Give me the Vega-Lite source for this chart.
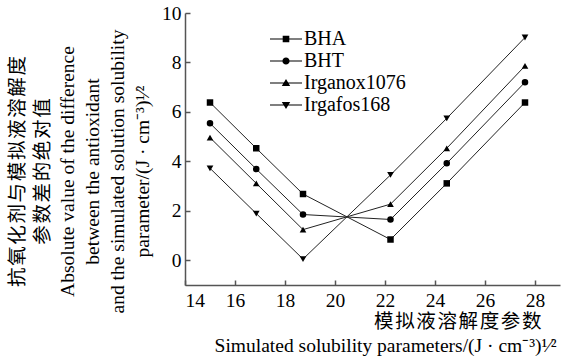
{
  "$schema": "https://vega.github.io/schema/vega-lite/v6.json",
  "width": 375,
  "height": 272,
  "autosize": {"type": "none"},
  "padding": {"left": 185, "top": 13, "right": 1, "bottom": 73},
  "background": "white",
  "config": {
    "view": {"stroke": null},
    "font": "Liberation Serif, Noto Sans CJK SC, serif",
    "axis": {
      "grid": false,
      "domainColor": "#555",
      "domainWidth": 1.5,
      "tickColor": "#555",
      "tickWidth": 1.5,
      "tickSize": -5,
      "labelColor": "black",
      "labelFont": "Liberation Serif, Noto Sans CJK SC, serif",
      "labelFontSize": 19.5,
      "titleFont": "Liberation Serif, Noto Sans CJK SC, serif",
      "titleFontSize": 19.5,
      "titleFontWeight": "normal",
      "titleColor": "black"
    },
    "legend": {
      "labelFont": "Liberation Serif, Noto Sans CJK SC, serif"
    }
  },
  "data": {
    "values": [
      {"series": "BHA", "x": 15.0, "y": 6.38},
      {"series": "BHA", "x": 16.85, "y": 4.53},
      {"series": "BHA", "x": 18.72, "y": 2.68},
      {"series": "BHA", "x": 22.22, "y": 0.84},
      {"series": "BHA", "x": 24.47, "y": 3.11},
      {"series": "BHA", "x": 27.6, "y": 6.38},
      {"series": "BHT", "x": 15.0, "y": 5.54},
      {"series": "BHT", "x": 16.85, "y": 3.69},
      {"series": "BHT", "x": 18.72, "y": 1.85},
      {"series": "BHT", "x": 22.22, "y": 1.65},
      {"series": "BHT", "x": 24.47, "y": 3.92},
      {"series": "BHT", "x": 27.6, "y": 7.2},
      {"series": "Irganox1076", "x": 15.0, "y": 4.96},
      {"series": "Irganox1076", "x": 16.85, "y": 3.11},
      {"series": "Irganox1076", "x": 18.72, "y": 1.24},
      {"series": "Irganox1076", "x": 22.22, "y": 2.27},
      {"series": "Irganox1076", "x": 24.47, "y": 4.53},
      {"series": "Irganox1076", "x": 27.6, "y": 7.86},
      {"series": "Irgafos168", "x": 15.0, "y": 3.72},
      {"series": "Irgafos168", "x": 16.85, "y": 1.89},
      {"series": "Irgafos168", "x": 18.72, "y": 0.05},
      {"series": "Irgafos168", "x": 22.22, "y": 3.45},
      {"series": "Irgafos168", "x": 24.47, "y": 5.74},
      {"series": "Irgafos168", "x": 27.6, "y": 9.01}
    ]
  },
  "encoding": {
    "x": {
      "field": "x",
      "type": "quantitative",
      "scale": {"domain": [14, 29], "nice": false, "zero": false},
      "axis": {
        "values": [14, 16, 18, 20, 22, 24, 26, 28],
        "labelPadding": 11,
        "title": ["模\u200a拟\u200a液\u200a溶\u200a解\u200a度\u200a参\u200a数\u2800", "Simulated solubility parameters/(J · cm⁻³)¹⁄²"],
        "titleAnchor": "end",
        "titleAlign": "right",
        "titleBaseline": "top",
        "titleX": 371,
        "titleY": 27,
        "titleLineHeight": 24
      }
    },
    "y": {
      "field": "y",
      "type": "quantitative",
      "scale": {"domain": [-1, 10], "nice": false, "zero": false},
      "axis": {
        "values": [0, 2, 4, 6, 8, 10],
        "labelPadding": 9,
        "title": ["抗\u200a氧\u200a化\u200a剂\u200a与\u200a模\u200a拟\u200a液\u200a溶\u200a解\u200a度", "参\u200a数\u200a差\u200a的\u200a绝\u200a对\u200a值", "Absolute value of the difference", "between the antioxidant", "and the simulated solution solubility", "parameter/(J · cm⁻³)¹⁄²"],
        "titleAngle": -90,
        "titleAlign": "center",
        "titleBaseline": "bottom",
        "titleX": -158,
        "titleY": 158,
        "titleLineHeight": 25
      }
    }
  },
  "layer": [
    {
      "mark": {"type": "line", "stroke": "#222", "strokeWidth": 1},
      "encoding": {"detail": {"field": "series"}}
    },
    {
      "mark": {"type": "point", "filled": true, "color": "black", "opacity": 1},
      "encoding": {
        "shape": {
          "field": "series",
          "scale": {"domain": ["BHA", "BHT", "Irganox1076", "Irgafos168"], "range": ["square", "circle", "triangle-up", "triangle-down"]},
          "legend": null
        },
        "size": {
          "field": "series",
          "scale": {"domain": ["BHA", "BHT", "Irganox1076", "Irgafos168"], "range": [42, 45, 55, 55]},
          "legend": null
        }
      }
    },
    {
      "mark": {"type": "point", "filled": true, "color": "black", "opacity": 0},
      "encoding": {
        "shape": {
          "field": "series",
          "scale": {
            "domain": ["BHA", "BHT", "Irganox1076", "Irgafos168"],
            "range": [
              "M-2.67,-0.085H2.67V0.085H-2.67ZM-0.55,-0.55H0.55V0.55H-0.55Z",
              "M-2.67,-0.085H2.67V0.085H-2.67ZM0.6,0A0.6,0.6,0,1,1,-0.6,0A0.6,0.6,0,1,1,0.6,0Z",
              "M-2.67,-0.085H2.67V0.085H-2.67ZM0,-0.65L0.7,0.5H-0.7Z",
              "M-2.67,-0.085H2.67V0.085H-2.67ZM0,0.65L-0.7,-0.5H0.7Z"
            ]
          },
          "legend": {
            "title": null,
            "orient": "none",
            "legendX": 91,
            "legendY": 16,
            "padding": 0,
            "symbolSize": 144,
            "symbolOpacity": 1,
            "symbolFillColor": "black",
            "symbolStrokeWidth": 0,
            "labelOffset": 8,
            "labelFont": "Liberation Serif, Noto Sans CJK SC, serif",
            "labelFontSize": 20,
            "labelColor": "black",
            "rowPadding": 2
          }
        }
      }
    }
  ],
  "resolve": {"scale": {"shape": "independent"}}
}
